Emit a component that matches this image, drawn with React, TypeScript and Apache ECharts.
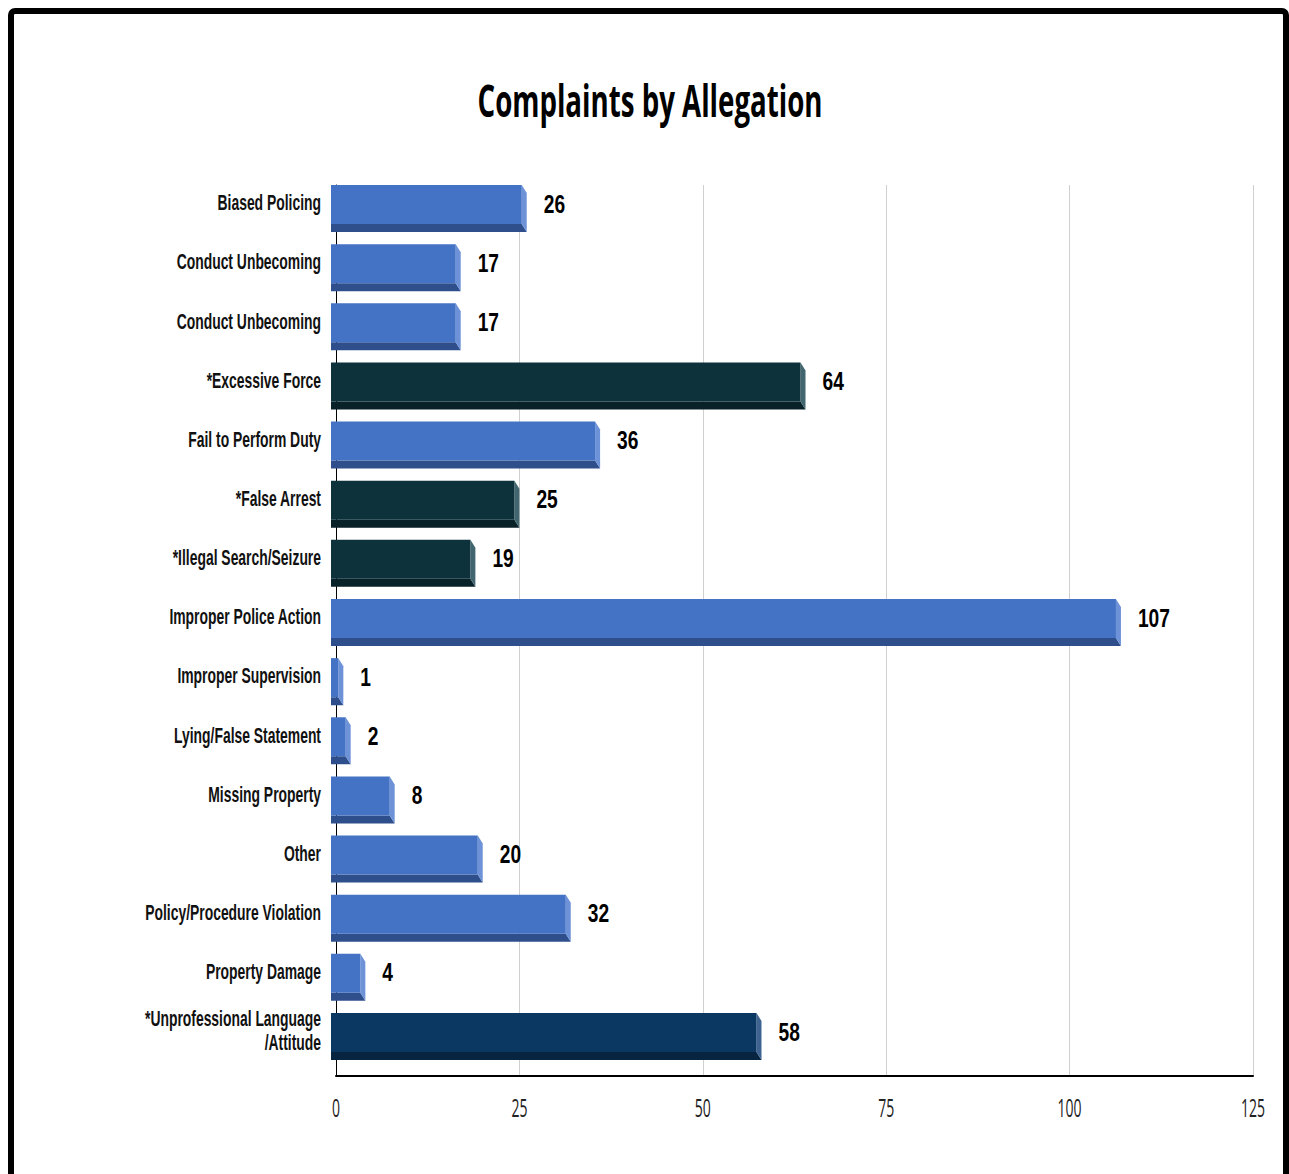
import React, { useEffect, useRef } from "react";
import * as echarts from "echarts";

const categories = [
  "Biased Policing",
  "Conduct Unbecoming",
  "Conduct Unbecoming",
  "*Excessive Force",
  "Fail to Perform Duty",
  "*False Arrest",
  "*Illegal Search/Seizure",
  "Improper Police Action",
  "Improper Supervision",
  "Lying/False Statement",
  "Missing Property",
  "Other",
  "Policy/Procedure Violation",
  "Property Damage",
  "*Unprofessional Language\n/Attitude",
];
const values = [26, 17, 17, 64, 36, 25, 19, 107, 1, 2, 8, 20, 32, 4, 58];
const kinds = [
  "standard", "standard", "standard", "dark", "standard", "dark", "dark", "standard",
  "standard", "standard", "standard", "standard", "standard", "standard", "navy",
];
const xTicks = [0, 25, 50, 75, 100, 125];
const title = "Complaints by Allegation";

const palette: Record<string, { face: string; bottom: string; side: string }> = {
  standard: { face: "#4472C4", bottom: "#2E4F8B", side: "#6D92D8" },
  dark: { face: "#0E323C", bottom: "#092128", side: "#41666F" },
  navy: { face: "#0A3862", bottom: "#072440", side: "#3E6390" },
};

const ARIAL = "'Liberation Sans', Arial, sans-serif";
const CALIBRI = "'Open Sans', 'Noto Sans', sans-serif";

const TITLE_FONT = `bold 45px ${CALIBRI}`;
const CAT_FONT = `bold 22px ${ARIAL}`;
const VAL_FONT = `bold 26px ${ARIAL}`;
const TICK_FONT = `25px ${CALIBRI}`;

function measure(text: string, font: string): number {
  const ctx = document.createElement("canvas").getContext("2d");
  if (!ctx) return text.length * 10;
  ctx.font = font;
  return ctx.measureText(text).width;
}

export default function App() {
  const ref = useRef<HTMLDivElement>(null);
  useEffect(() => {
    if (!ref.current) return;
    const titleScale = 345 / measure(title, TITLE_FONT);
    const catScale = 176 / measure("Policy/Procedure Violation", CAT_FONT);
    const valScale = 32 / measure("107", VAL_FONT);
    const tickScale = 24 / measure("100", TICK_FONT);

    const chart = echarts.init(ref.current, null, { renderer: "svg" });
    const data = values.map((v, i) => [v, i]);
    chart.setOption({
      animation: false,
      backgroundColor: "#ffffff",
      graphic: [
        {
          type: "rect",
          z: -10,
          shape: { x: 11, y: 11, width: 1275, height: 1220, r: 4 },
          style: { fill: "#ffffff", stroke: "#000000", lineWidth: 6 },
          silent: true,
        },
        {
          type: "text",
          x: 650,
          y: 100,
          scaleX: titleScale,
          style: {
            text: title,
            font: TITLE_FONT,
            fill: "#000000",
            textAlign: "center",
            textVerticalAlign: "middle",
          },
        },
      ],
      grid: [
        { left: 336, top: 185, width: 917, height: 891 },
        { left: 331, top: 175, width: 917, height: 887 },
      ],
      xAxis: [
        {
          gridIndex: 0,
          type: "value",
          min: 0,
          max: 125,
          interval: 25,
          axisLine: { show: true, lineStyle: { color: "#000000", width: 2 } },
          axisTick: { show: false },
          splitLine: { show: true, lineStyle: { color: "#D0D0D0", width: 1 } },
          axisLabel: { show: false },
        },
        {
          gridIndex: 1,
          type: "value",
          min: 0,
          max: 125,
          show: false,
        },
      ],
      yAxis: [
        {
          gridIndex: 0,
          type: "value",
          min: 0,
          max: 1,
          axisLine: { show: true, lineStyle: { color: "#000000", width: 1 } },
          axisLabel: { show: false },
          axisTick: { show: false },
          splitLine: { show: false },
        },
        {
          gridIndex: 1,
          type: "category",
          data: categories,
          inverse: true,
          axisLine: { show: false },
          axisTick: { show: false },
          axisLabel: { show: false },
        },
      ],
      series: [
        {
          type: "custom",
          xAxisIndex: 0,
          yAxisIndex: 0,
          data: xTicks.map((t) => [t, 0]),
          renderItem: (params: any, api: any) => {
            const v = api.value(0);
            const p = api.coord([v, 0]);
            return {
              type: "text",
              x: p[0],
              y: p[1] + 31,
              scaleX: tickScale,
              style: {
                text: String(v),
                font: TICK_FONT,
                fill: "#222222",
                textAlign: "center",
                textVerticalAlign: "middle",
              },
            };
          },
        },
        {
          type: "custom",
          xAxisIndex: 1,
          yAxisIndex: 1,
          data,
          renderItem: (params: any, api: any) => {
            const val = api.value(0);
            const cat = api.value(1);
            const c = palette[kinds[params.dataIndex]];
            const s = api.coord([0, cat]);
            const e = api.coord([val, cat]);
            const x0 = s[0];
            const x1 = e[0];
            const y0 = s[1] - 19.5;
            const y1 = s[1] + 19.5;
            const dx = 5;
            const dy = 8;
            return {
              type: "group",
              children: [
                {
                  type: "polygon",
                  shape: { points: [[x0, y1], [x1, y1], [x1 + dx, y1 + dy], [x0, y1 + dy]] },
                  style: { fill: c.bottom },
                },
                {
                  type: "polygon",
                  shape: { points: [[x1, y0], [x1 + dx, y0 + dy], [x1 + dx, y1 + dy], [x1, y1]] },
                  style: { fill: c.side },
                },
                {
                  type: "rect",
                  shape: { x: x0, y: y0, width: x1 - x0, height: y1 - y0 },
                  style: { fill: c.face },
                },
                {
                  type: "text",
                  x: x1 + dx + 17,
                  y: s[1] - 1,
                  scaleX: valScale,
                  style: {
                    text: String(val),
                    font: VAL_FONT,
                    fill: "#000000",
                    textAlign: "left",
                    textVerticalAlign: "middle",
                  },
                },
                {
                  type: "text",
                  x: x0 - 10,
                  y: s[1] - 2,
                  scaleX: catScale,
                  style: {
                    text: categories[cat],
                    font: CAT_FONT,
                    lineHeight: 24,
                    fill: "#111111",
                    textAlign: "right",
                    textVerticalAlign: "middle",
                  },
                },
              ],
            };
          },
        },
      ],
    });
    return () => chart.dispose();
  }, []);
  return (
    <div
      ref={ref}
      style={{ position: "absolute", left: 0, top: 0, width: 1289, height: 1174 }}
    />
  );
}
